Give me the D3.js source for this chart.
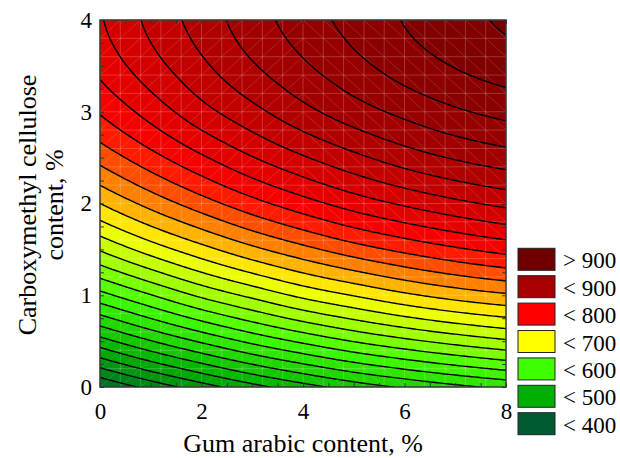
<!DOCTYPE html>
<html>
<head>
<meta charset="utf-8">
<script src="https://cdn.jsdelivr.net/npm/d3@7"></script>
<style>
  body { margin: 0; background: #fff; }
  svg text { font-family: "Liberation Serif", "Times New Roman", serif; fill: #000; }
</style>
</head>
<body>
<div id="vis"></div>
<script>
// Response surface: one row per CMC value, one column per gum arabic value
const gumArabic = [0, 1, 2, 3, 4, 5, 6, 7, 8];
const cmcContent = [0, 0.5, 1, 1.5, 2, 2.5, 3, 3.5, 4];
const response = [
    [420, 447, 471, 493, 512, 529, 543, 555, 565],
    [512, 539, 563, 585, 604, 621, 635, 647, 657],
    [593, 619, 644, 665, 685, 701, 716, 728, 737],
    [662, 689, 713, 735, 754, 771, 785, 797, 807],
    [720, 747, 771, 793, 812, 829, 843, 855, 865],
    [767, 793, 817, 839, 858, 875, 890, 902, 911],
    [802, 828, 853, 874, 894, 911, 925, 937, 946],
    [826, 852, 876, 898, 917, 934, 949, 961, 970],
    [838, 865, 889, 911, 930, 947, 961, 973, 983]
];
// contour levels (every 20)
const levels = [380, 400, 420, 440, 460, 480, 500, 520, 540, 560, 580, 600, 620, 640, 660, 680,
    700, 720, 740, 760, 780, 800, 820, 840, 860, 880, 900, 920, 940, 960, 980];
const legendLabels = ['> 900', '< 900', '< 800', '< 700', '< 600', '< 500', '< 400'];
const legendValues = [1000, 900, 800, 700, 600, 500, 400];
const xTicks = [0, 2, 4, 6, 8];
const yTicks = [0, 1, 2, 3, 4];

const W = 620, H = 458;
const margin = {left: 100, top: 20, right: 114, bottom: 71};
const width = W - margin.left - margin.right;   // 406
const height = H - margin.top - margin.bottom;  // 367
const serif = '"Liberation Serif", "Times New Roman", serif';

const xScale = d3.scaleLinear().domain([0, 8]).range([margin.left, margin.left + width]);
const yScale = d3.scaleLinear().domain([0, 4]).range([margin.top + height, margin.top]);

const color = d3.scaleLinear()
    .domain([400, 500, 600, 700, 800, 900, 1000])
    .range(['#005a32', '#00b000', '#40ff00', '#ffff00', '#ff0000', '#a80000', '#700000'])
    .clamp(true);

// smooth the read grid (Catmull-Rom) so d3.contours gets round lines
let ghost = (arr, i) => {
    let n = arr.length;
    if (i < 0) return 3 * arr[0] - 3 * arr[1] + arr[2];
    if (i > n - 1) return 3 * arr[n - 1] - 3 * arr[n - 2] + arr[n - 3];
    return arr[i];
};
let sample = (arr, u) => {
    let i = Math.min(Math.floor(u), arr.length - 2);
    let t = u - i;
    let p0 = ghost(arr, i - 1), p1 = arr[i], p2 = arr[i + 1], p3 = ghost(arr, i + 2);
    return 0.5 * (2 * p1 + (-p0 + p2) * t + (2 * p0 - 5 * p1 + 4 * p2 - p3) * t * t
        + (-p0 + 3 * p1 - 3 * p2 + p3) * t * t * t);
};

const nx = 201, ny = 201;
const values = new Array(nx * ny);
for (let i = 0; i < nx; i++) {
    let u = i / (nx - 1) * (gumArabic.length - 1);
    let col = response.map(row => sample(row, u));
    for (let j = 0; j < ny; j++) {
        let v = j / (ny - 1) * (cmcContent.length - 1);
        values[j * nx + i] = sample(col, v);
    }
}

const contours = d3.contours().size([nx, ny]).thresholds(levels)(values);

const proj = d3.geoTransform({
    point: function(cx, cy) {
        this.stream.point(
            xScale((cx - 0.5) / (nx - 1) * 8),
            yScale((cy - 0.5) / (ny - 1) * 4));
    }
});
const path = d3.geoPath(proj);

const svg = d3.select('#vis').append('svg')
    .attr('width', W)
    .attr('height', H)
    .attr('font-family', serif);

svg.append('clipPath').attr('id', 'plotClip')
    .append('rect')
    .attr('x', margin.left).attr('y', margin.top)
    .attr('width', width).attr('height', height);

const plot = svg.append('g').attr('clip-path', 'url(#plotClip)');

// filled bands
plot.append('g').selectAll('path')
    .data(contours)
    .join('path')
    .attr('d', path)
    .attr('fill', d => color(d.value + 10));

// mesh
const meshX = d3.range(0, 20.5).map(i => i * 0.4);
const meshY = d3.range(0, 20.5).map(i => i * 0.2);
const mesh = plot.append('g')
    .attr('stroke', '#fff')
    .attr('stroke-width', 1);
mesh.selectAll('line.v').data(meshX).join('line')
    .attr('class', 'v')
    .attr('x1', d => xScale(d)).attr('x2', d => xScale(d))
    .attr('y1', yScale(0)).attr('y2', yScale(4))
    .attr('stroke-opacity', 0.2);
mesh.selectAll('line.h').data(meshY).join('line')
    .attr('class', 'h')
    .attr('y1', d => yScale(d)).attr('y2', d => yScale(d))
    .attr('x1', xScale(0)).attr('x2', xScale(8))
    .attr('stroke-opacity', 0.2);
let cells = [];
for (let i = 0; i < 20; i++) {
    for (let j = 0; j < 20; j++) cells.push([i, j]);
}
mesh.selectAll('line.d').data(cells).join('line')
    .attr('class', 'd')
    .attr('x1', d => xScale(meshX[d[0]]))
    .attr('x2', d => xScale(meshX[d[0] + 1]))
    .attr('y1', d => yScale(d[0] < 10 ? meshY[d[1]] : meshY[d[1] + 1]))
    .attr('y2', d => yScale(d[0] < 10 ? meshY[d[1] + 1] : meshY[d[1]]))
    .attr('stroke-opacity', 0.14);

// contour lines
plot.append('g').selectAll('path')
    .data(contours.filter(d => d.value >= 400))
    .join('path')
    .attr('d', path)
    .attr('fill', 'none')
    .attr('stroke', '#000')
    .attr('stroke-width', 1.4);

// small inner ticks on the frame
let tickAxis = (axis, tx, ty) => {
    let g = svg.append('g')
        .attr('transform', `translate(${tx}, ${ty})`)
        .call(axis);
    g.select('.domain').remove();
    g.selectAll('line').attr('stroke', '#333');
};
const xMinor = d3.range(0, 16.5).map(i => i * 0.5);
const yMinor = d3.range(0, 16.5).map(i => i * 0.25);
tickAxis(d3.axisBottom(xScale).tickValues(xMinor).tickSize(-4).tickFormat(''), 0, yScale(0));
tickAxis(d3.axisTop(xScale).tickValues(xMinor).tickSize(-4).tickFormat(''), 0, yScale(4));
tickAxis(d3.axisLeft(yScale).tickValues(yMinor).tickSize(-4).tickFormat(''), xScale(0), 0);
tickAxis(d3.axisRight(yScale).tickValues(yMinor).tickSize(-4).tickFormat(''), xScale(8), 0);

// frame
svg.append('rect')
    .attr('x', margin.left).attr('y', margin.top)
    .attr('width', width).attr('height', height)
    .attr('fill', 'none')
    .attr('stroke', '#333')
    .attr('stroke-width', 1.5);

// tick labels
let xAxis = svg.append('g')
    .attr('transform', `translate(0, ${yScale(0)})`)
    .call(d3.axisBottom(xScale).tickValues(xTicks).tickFormat(d3.format('d')).tickSize(0).tickPadding(16));
let yAxis = svg.append('g')
    .attr('transform', `translate(${xScale(0)}, 0)`)
    .call(d3.axisLeft(yScale).tickValues(yTicks).tickFormat(d3.format('d')).tickSize(0).tickPadding(8));
[xAxis, yAxis].forEach(g => {
    g.attr('font-family', serif).attr('font-size', 23);
    g.select('.domain').remove();
    g.selectAll('text').attr('fill', '#000');
});

// axis titles
svg.append('text')
    .attr('x', xScale(4))
    .attr('y', 452)
    .attr('text-anchor', 'middle')
    .attr('font-size', 26)
    .text('Gum arabic content, %');

svg.append('text')
    .attr('transform', 'translate(36, 205) rotate(-90)')
    .attr('text-anchor', 'middle')
    .attr('font-size', 26)
    .text('Carboxymethyl cellulose');

svg.append('text')
    .attr('transform', 'translate(63, 205) rotate(-90)')
    .attr('text-anchor', 'middle')
    .attr('font-size', 26)
    .text('content, %');

// legend
let legend = svg.append('g')
    .attr('font-family', serif)
    .selectAll('g')
    .data(legendLabels)
    .join('g')
    .attr('transform', (d, i) => `translate(518, ${248.3 + i * 27.4})`);

legend.append('rect')
    .attr('width', 37)
    .attr('height', 22)
    .attr('fill', (d, i) => color(legendValues[i]))
    .attr('stroke', '#222')
    .attr('stroke-width', 1);

legend.append('text')
    .attr('x', 45)
    .attr('y', 20)
    .attr('font-size', 23)
    .text(d => d);
</script>
</body>
</html>
